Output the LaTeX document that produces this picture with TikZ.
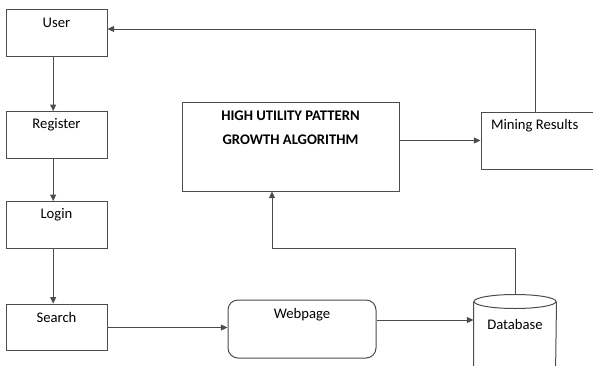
\documentclass[tikz,border=0pt]{standalone}
\usepackage{fontspec}
\setmainfont{Carlito}
\usetikzlibrary{arrows.meta}

\begin{document}
\begin{tikzpicture}[x=0.75pt,y=-0.75pt,line width=0.75pt,draw=black!70,
    >={Triangle[length=5pt,width=4.5pt]},font=\fontsize{11}{13}\selectfont]
    \tikzstyle{box}=[draw,rectangle,minimum width=75.75pt,minimum height=35pt,inner sep=0pt]
    \tikzstyle{top text}=[anchor=center,yshift=-10.5pt,inner sep=0pt]
    \tikzstyle{algo box}=[box,minimum width=162.75pt,minimum height=66.75pt]
    \tikzstyle{page box}=[box,rounded corners=7.5pt,minimum width=111pt,minimum height=43.5pt]
    \tikzstyle{store}=[rectangle,minimum width=61.5pt,minimum height=60pt,inner sep=0pt]
    \useasboundingbox (0,0) rectangle (593,365);

    % Draw the steps on the left
    \node[box,label={[top text]north:User}] (User) at (56.5,33) {};
    \node[box,label={[top text]north:Register}] (Register) at (56.5,135) {};
    \node[box,label={[top text]north:Login}] (Login) at (56.5,225) {};
    \node[box,label={[top text]north:Search}] (Search) at (56.5,327.5) {};

    % Draw the algorithm and its results
    \node[algo box,label={[top text,yshift=-9pt,align=center,font=\fontsize{11}{13}\selectfont\bfseries]north:HIGH UTILITY PATTERN\\[5pt]GROWTH ALGORITHM}] (HUP) at (290.5,146.5) {};
    \node[box,minimum width=90pt,minimum height=42.75pt,
        label={[top text,anchor=west,xshift=7.5pt]north west:Mining Results}] (Mining) at (541,140.5) {};

    % Draw the webpage and the database
    \node[page box,label={[top text,yshift=-0.75pt]north:Webpage}] (Webpage) at (302,329) {};
    \node[store,label={[top text,yshift=-12pt]north:Database}] (Database) at (515,335) {};
    \draw (Database.north) ++(0,7) ellipse [x radius=41,y radius=7];
    \draw ([yshift=-5.25pt]Database.north west) -- (Database.south west)
        arc [start angle=180,end angle=360,x radius=41,y radius=-7] -- ([yshift=-5.25pt]Database.north east);

    % Connect the steps
    \draw[->] ([xshift=-2.5pt]User.south) -- ([xshift=-2.5pt]Register.north);
    \draw[->] ([xshift=-2.5pt]Register.south) -- ([xshift=-2.5pt]Login.north);
    \draw[->] ([xshift=-2.5pt]Login.south) -- ([xshift=-2.5pt]Search.north);
    \draw[->] (Search.east) -- (Search.east -| Webpage.west);

    \coordinate (wdb) at (0,320);
    \draw[->] (Webpage.east |- wdb) -- (Database.west |- wdb);

    \coordinate (dbturn) at (272,248);
    \draw[->] (Database.north) |- (dbturn) -- (dbturn |- HUP.south);

    \draw[->] (HUP.east |- Mining.west) -- (Mining.west);

    \coordinate (mturn) at (535,29);
    \draw[->] (mturn |- Mining.north) -- (mturn) -- (mturn -| User.east);
\end{tikzpicture}
\end{document}
